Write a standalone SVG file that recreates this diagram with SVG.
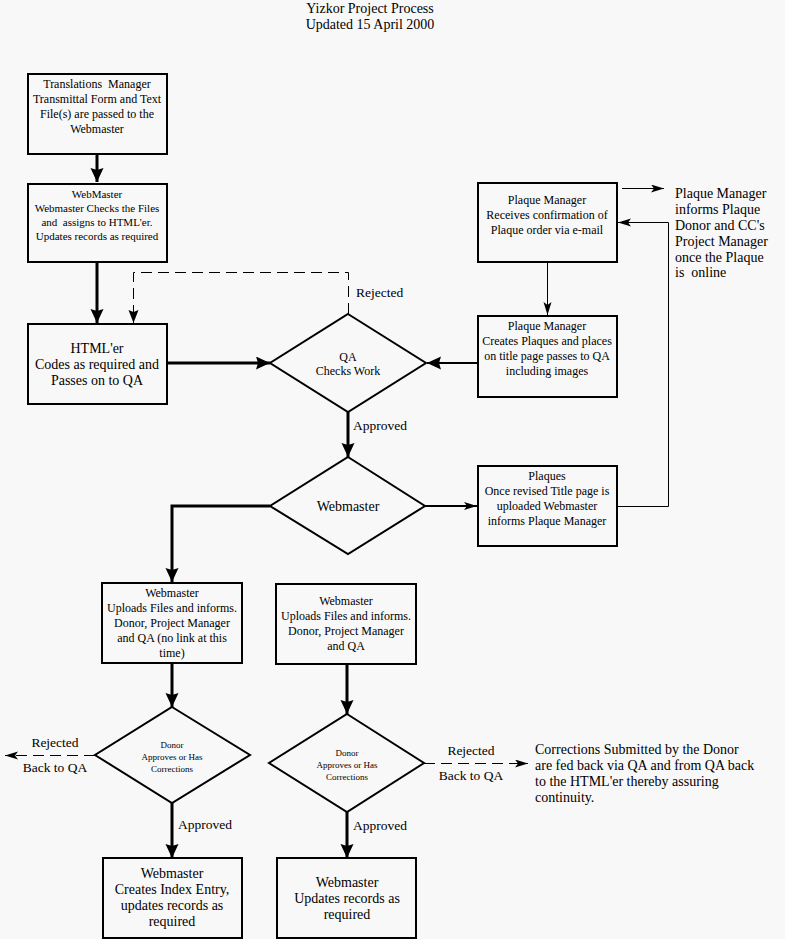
<svg xmlns="http://www.w3.org/2000/svg" width="785" height="939" viewBox="0 0 785 939">
<defs>
<style>
.bg{fill:#f8f8f8}
.box{fill:none;stroke:#000;stroke-width:2}
.dia{fill:none;stroke:#000;stroke-width:2}
text{font-family:"Liberation Serif","Times New Roman",serif;fill:#000;white-space:pre}
.c text,.n text{text-anchor:middle}
.c text.ls{text-anchor:start}
.t11{font-size:11px}
.t12{font-size:12px}
.t14{font-size:14px}
.t9{font-size:9px}
.lbl{font-size:13.5px}
.thick{fill:none;stroke:#000;stroke-width:3}
.mid{fill:none;stroke:#000;stroke-width:2}
.thin{fill:none;stroke:#000;stroke-width:1}
.dash{fill:none;stroke:#000;stroke-width:1;stroke-dasharray:11,6}
</style>
<marker id="aL" markerUnits="userSpaceOnUse" markerWidth="15" markerHeight="14" refX="14" refY="6.5" orient="auto">
<path d="M0,0 L14,6.5 L0,13 L2,6.5 z" fill="#000"/>
</marker>
<marker id="aM" markerUnits="userSpaceOnUse" markerWidth="14" markerHeight="11" refX="13" refY="5" orient="auto">
<path d="M0,0 L13,5 L0,10 L2,5 z" fill="#000"/>
</marker>
<marker id="aS" markerUnits="userSpaceOnUse" markerWidth="14" markerHeight="9" refX="13" refY="4" orient="auto">
<path d="M0,0 L13,4 L0,8 L3,4 z" fill="#000"/>
</marker>
</defs>
<rect class="bg" x="0" y="0" width="785" height="939"/>

<g id="title">
<text class="t14" x="370" y="13" text-anchor="middle">Yizkor Project Process</text>
<text class="t14" x="370" y="29" text-anchor="middle">Updated 15 April 2000</text>
</g>

<g id="connectors" class="c">
<line class="thick" x1="97" y1="155" x2="97" y2="182" marker-end="url(#aL)"/>
<line class="thick" x1="97" y1="263" x2="97" y2="323" marker-end="url(#aL)"/>
<polyline class="dash" points="348.5,314 348.5,272.5 133.5,272.5 133.5,323" marker-end="url(#aM)"/>
<text class="lbl ls" x="356" y="297">Rejected</text>
<line class="thick" x1="167" y1="363" x2="270" y2="363" marker-end="url(#aL)"/>
<line class="mid" x1="477" y1="363" x2="427" y2="363" marker-end="url(#aL)"/>
<line class="thick" x1="348" y1="412" x2="348" y2="457" marker-end="url(#aL)"/>
<text class="lbl ls" x="353" y="430">Approved</text>
<polyline class="thick" points="270,506 172,506 172,582" marker-end="url(#aL)"/>
<line class="mid" x1="425" y1="506" x2="477" y2="506" stroke-width="1.5" marker-end="url(#aS)"/>
<polyline class="thin" points="617,506.5 668.5,506.5 668.5,222.5 618,222.5" marker-end="url(#aS)"/>
<line class="thin" x1="622" y1="188.5" x2="664" y2="188.5" marker-end="url(#aS)"/>
<line class="thin" x1="547.5" y1="262" x2="547.5" y2="315" marker-end="url(#aS)"/>
<line class="thick" x1="172" y1="663" x2="172" y2="707" marker-end="url(#aL)"/>
<line class="dash" x1="95" y1="755.5" x2="5" y2="755.5" marker-end="url(#aS)"/>
<text class="lbl" x="55" y="747">Rejected</text>
<text class="lbl" x="55" y="772">Back to QA</text>
<line class="thick" x1="172" y1="803" x2="172" y2="858" marker-end="url(#aL)"/>
<text class="lbl ls" x="178" y="829">Approved</text>
<line class="thick" x1="347" y1="664" x2="347" y2="714" marker-end="url(#aL)"/>
<line class="dash" x1="424" y1="763.5" x2="528" y2="763.5" marker-end="url(#aS)"/>
<text class="lbl" x="471" y="755">Rejected</text>
<text class="lbl" x="471" y="780">Back to QA</text>
<line class="thick" x1="347" y1="812" x2="347" y2="858" marker-end="url(#aL)"/>
<text class="lbl ls" x="353" y="830">Approved</text>
</g>

<g id="n-translations" class="n">
<rect class="box" x="28" y="74" width="139" height="80"/>
<text class="t12" x="97" y="88">Translations  Manager</text>
<text class="t12" x="97" y="103">Transmittal Form and Text</text>
<text class="t12" x="97" y="118">File(s) are passed to the</text>
<text class="t12" x="97" y="133">Webmaster</text>
</g>

<g id="n-webmaster-check" class="n">
<rect class="box" x="28" y="184" width="139" height="78"/>
<text class="t11" x="97" y="198">WebMaster</text>
<text class="t11" x="97" y="212">Webmaster Checks the Files</text>
<text class="t11" x="97" y="226">and  assigns to HTML'er.</text>
<text class="t11" x="97" y="240">Updates records as required</text>
</g>

<g id="n-htmler" class="n">
<rect class="box" x="28" y="324" width="139" height="80"/>
<text class="t14" x="97" y="353">HTML'er</text>
<text class="t14" x="97" y="369">Codes as required and</text>
<text class="t14" x="97" y="385">Passes on to QA</text>
</g>

<g id="n-qa" class="n">
<polygon class="dia" points="348,314 426,363 348,412 270,363"/>
<text class="t12" x="348" y="361">QA</text>
<text class="t12" x="348" y="375">Checks Work</text>
</g>

<g id="n-webmaster-decision" class="n">
<polygon class="dia" points="348,457 425,506 348,554 270,506"/>
<text class="t14" x="348" y="511">Webmaster</text>
</g>

<g id="n-plaque-confirm" class="n">
<rect class="box" x="478" y="183" width="139" height="79"/>
<text class="t12" x="547" y="204">Plaque Manager</text>
<text class="t12" x="547" y="219">Receives confirmation of</text>
<text class="t12" x="547" y="234">Plaque order via e-mail</text>
</g>

<g id="n-plaque-informs">
<text class="t14" x="675" y="198">Plaque Manager</text>
<text class="t14" x="675" y="214">informs Plaque</text>
<text class="t14" x="675" y="230">Donor and CC's</text>
<text class="t14" x="675" y="246">Project Manager</text>
<text class="t14" x="675" y="262">once the Plaque</text>
<text class="t14" x="675" y="277">is  online</text>
</g>

<g id="n-plaque-create" class="n">
<rect class="box" x="478" y="316" width="139" height="81"/>
<text class="t12" x="547" y="330">Plaque Manager</text>
<text class="t12" x="547" y="345">Creates Plaques and places</text>
<text class="t12" x="547" y="360">on title page passes to QA</text>
<text class="t12" x="547" y="375">including images</text>
</g>

<g id="n-plaques" class="n">
<rect class="box" x="478" y="466" width="139" height="80"/>
<text class="t12" x="547" y="480">Plaques</text>
<text class="t12" x="547" y="495">Once revised Title page is</text>
<text class="t12" x="547" y="510">uploaded Webmaster</text>
<text class="t12" x="547" y="525">informs Plaque Manager</text>
</g>

<g id="n-upload1" class="n">
<rect class="box" x="102" y="583" width="140" height="80"/>
<text class="t12" x="172" y="597">Webmaster</text>
<text class="t12" x="172" y="612">Uploads Files and informs.</text>
<text class="t12" x="172" y="627">Donor, Project Manager</text>
<text class="t12" x="172" y="642">and QA (no link at this</text>
<text class="t12" x="172" y="657">time)</text>
</g>

<g id="n-upload2" class="n">
<rect class="box" x="276" y="584" width="140" height="80"/>
<text class="t12" x="346" y="605">Webmaster</text>
<text class="t12" x="346" y="620">Uploads Files and informs.</text>
<text class="t12" x="346" y="635">Donor, Project Manager</text>
<text class="t12" x="346" y="650">and QA</text>
</g>

<g id="n-donor1" class="n">
<polygon class="dia" points="172,707 250,755 172,803 95,755"/>
<text class="t9" x="172" y="748">Donor</text>
<text class="t9" x="172" y="760">Approves or Has</text>
<text class="t9" x="172" y="772">Corrections</text>
</g>

<g id="n-donor2" class="n">
<polygon class="dia" points="347,714 424,763 347,812 269,763"/>
<text class="t9" x="347" y="756">Donor</text>
<text class="t9" x="347" y="768">Approves or Has</text>
<text class="t9" x="347" y="780">Corrections</text>
</g>

<g id="n-corrections">
<text class="t14" x="535" y="754">Corrections Submitted by the Donor</text>
<text class="t14" x="535" y="770">are fed back via QA and from QA back</text>
<text class="t14" x="535" y="786">to the HTML'er thereby assuring</text>
<text class="t14" x="535" y="802">continuity.</text>
</g>

<g id="n-index" class="n">
<rect class="box" x="103" y="858" width="139" height="80"/>
<text class="t14" x="172" y="878">Webmaster</text>
<text class="t14" x="172" y="894">Creates Index Entry,</text>
<text class="t14" x="172" y="910">updates records as</text>
<text class="t14" x="172" y="926">required</text>
</g>

<g id="n-updates" class="n">
<rect class="box" x="277" y="858" width="139" height="80"/>
<text class="t14" x="347" y="887">Webmaster</text>
<text class="t14" x="347" y="903">Updates records as</text>
<text class="t14" x="347" y="919">required</text>
</g>
</svg>
